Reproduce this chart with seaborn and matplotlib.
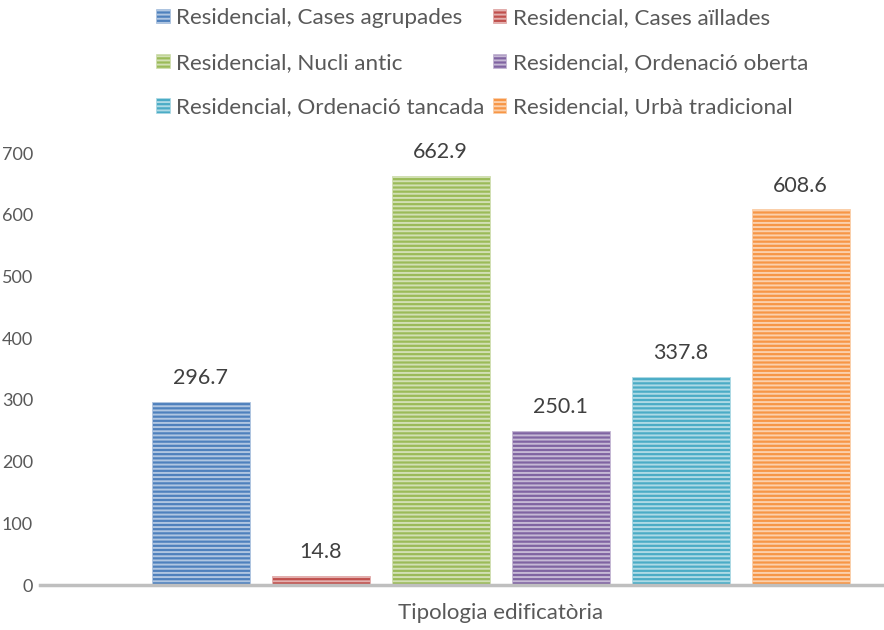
import seaborn as sns
import pandas as pd
import matplotlib.pyplot as plt
import matplotlib
from matplotlib.patches import Patch
matplotlib.use('Agg')

tipologies = ["Residencial, Cases agrupades", "Residencial, Cases aïllades",
              "Residencial, Nucli antic", "Residencial, Ordenació oberta",
              "Residencial, Ordenació tancada", "Residencial, Urbà tradicional"]
valors = [296.7, 14.8, 662.9, 250.1, 337.8, 608.6]
colors = ["#4F81BD", "#C0504D", "#9BBB59", "#8064A2", "#4BACC6", "#F79646"]
grup = "Tipologia edificatòria"

def lighten(c, f):
    r, g, b = matplotlib.colors.to_rgb(c)
    return (r + (1 - r) * f, g + (1 - g) * f, b + (1 - b) * f)

sns.set_style("white")
plt.rcParams['font.family'] = ['Lato', 'DejaVu Sans']
plt.rcParams['hatch.linewidth'] = 1.4

df = pd.DataFrame({"grup": [grup] * len(tipologies), "tipologia": tipologies, "valor": valors})

fig = plt.figure(figsize=(8.84, 6.30), dpi=100)
ax = fig.add_axes([40 / 884, 45 / 630, 844 / 884, 432 / 630])
sns.barplot(data=df, x="grup", y="valor", hue="tipologia", hue_order=tipologies,
            palette=colors, width=0.8, gap=0.183, ax=ax, legend=False, errorbar=None)

for cont, c in zip(ax.containers, colors):
    for p in cont:
        p.set_facecolor(c)
        p.set_edgecolor(lighten(c, 0.55))
        p.set_linewidth(0.6)
        p.set_hatch("----")
    ax.bar_label(cont, fmt="%.1f", padding=10, fontsize=15.5, color="#404040", clip_on=False)

ax.set_xlim(-0.512, 0.426)
ax.set_ylim(0, 700)
ax.set_yticks(range(0, 701, 100))
ax.set_xlabel("")
ax.set_ylabel("")
for s in ["top", "right", "left"]:
    ax.spines[s].set_visible(False)
ax.spines["bottom"].set_color("#BFBFBF")
ax.spines["bottom"].set_linewidth(2.5)
ax.tick_params(axis="y", length=0, pad=5, labelsize=13, labelcolor="#595959")
ax.tick_params(axis="x", length=0, pad=13, labelsize=16, labelcolor="#595959")

# legend filled row by row, as in the original
order = [0, 2, 4, 1, 3, 5]
handles = [Patch(facecolor=colors[i], edgecolor=lighten(colors[i], 0.55), hatch="----", linewidth=0.5) for i in order]
labels = [tipologies[i] for i in order]
fig.legend(handles, labels, ncol=2, loc="upper left", bbox_to_anchor=(156 / 884, 1 - 8 / 630),
           frameon=False, fontsize=16.2, labelcolor="#595959", handlelength=0.6, handleheight=0.6,
           handletextpad=0.3, columnspacing=0.35, labelspacing=1.1, borderpad=0, borderaxespad=0)

fig.savefig("out.png", dpi=100)
